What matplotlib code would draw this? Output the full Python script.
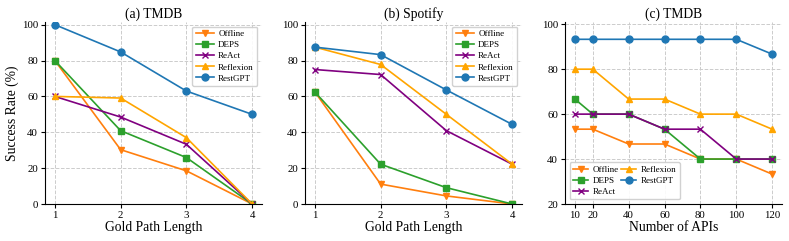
import matplotlib.pyplot as plt

plt.rcParams['font.family'] = ['Liberation Serif', 'DejaVu Serif']

methods = ["Offline", "DEPS", "ReAct", "Reflexion", "RestGPT"]
colors = ["#ff7f0e", "#2ca02c", "#800080", "#ffa500", "#1f77b4"]
markers = ["v", "s", "x", "^", "o"]

# (a) TMDB vs gold path length
path_len = [1, 2, 3, 4]
tmdb_path = {
    "Offline": [80, 30.3, 18.5, 0],
    "DEPS": [80, 40.9, 25.9, 0],
    "ReAct": [60, 48.5, 33.3, 0],
    "Reflexion": [60, 59.1, 37.0, 0],
    "RestGPT": [100, 84.8, 63.0, 50],
}

# (b) Spotify vs gold path length
spotify_path = {
    "Offline": [62.5, 11.1, 4.5, 0],
    "DEPS": [62.5, 22.2, 9.1, 0],
    "ReAct": [75, 72.2, 40.9, 22.2],
    "Reflexion": [87.5, 77.8, 50.0, 22.2],
    "RestGPT": [87.5, 83.3, 63.6, 44.4],
}

# (c) TMDB vs number of APIs
num_apis = [10, 20, 40, 60, 80, 100, 120]
tmdb_apis = {
    "Offline": [53.3, 53.3, 46.7, 46.7, 40, 40, 33.3],
    "DEPS": [66.7, 60, 60, 53.3, 40, 40, 40],
    "ReAct": [60, 60, 60, 53.3, 53.3, 40, 40],
    "Reflexion": [80, 80, 66.7, 66.7, 60, 60, 53.3],
    "RestGPT": [93.3, 93.3, 93.3, 93.3, 93.3, 93.3, 86.7],
}

fig = plt.figure(figsize=(7.89, 2.41), dpi=100)
lefts = [45, 305, 565]
axes = [fig.add_axes([l / 789, 37 / 241, 217 / 789, 182 / 241]) for l in lefts]

leg_kw = dict(fontsize=6.5, labelspacing=0.3, borderpad=0.4,
              handletextpad=0.5, framealpha=0.9)


def draw(ax, x, data, title, xlabel):
    for m, c, mk in zip(methods, colors, markers):
        ax.plot(x, data[m], color=c, marker=mk, markersize=5, linewidth=1.2, label=m)
    ax.set_title(title, fontsize=9.8, pad=3)
    ax.set_xlabel(xlabel, fontsize=9.8, labelpad=1)
    ax.grid(True, linestyle="--", color="#cccccc", linewidth=0.7)
    ax.spines["top"].set_visible(False)
    ax.spines["right"].set_visible(False)
    ax.tick_params(labelsize=7.8, length=3, pad=2)


draw(axes[0], path_len, tmdb_path, "(a) TMDB", "Gold Path Length")
axes[0].set_ylim(0, 101.5)
axes[0].set_xticks(path_len)
axes[0].set_ylabel("Success Rate (%)", fontsize=9.8, labelpad=2)
axes[0].legend(loc="upper right", handlelength=2, **leg_kw)

draw(axes[1], path_len, spotify_path, "(b) Spotify", "Gold Path Length")
axes[1].set_ylim(0, 101.5)
axes[1].set_xticks(path_len)
axes[1].legend(loc="upper right", handlelength=2, **leg_kw)

draw(axes[2], num_apis, tmdb_apis, "(c) TMDB", "Number of APIs")
axes[2].set_ylim(20, 101)
axes[2].set_xticks(num_apis)
axes[2].legend(loc="lower left", ncol=2, columnspacing=0.2, handlelength=1.7, **leg_kw)

fig.savefig("out.png", dpi=100)
